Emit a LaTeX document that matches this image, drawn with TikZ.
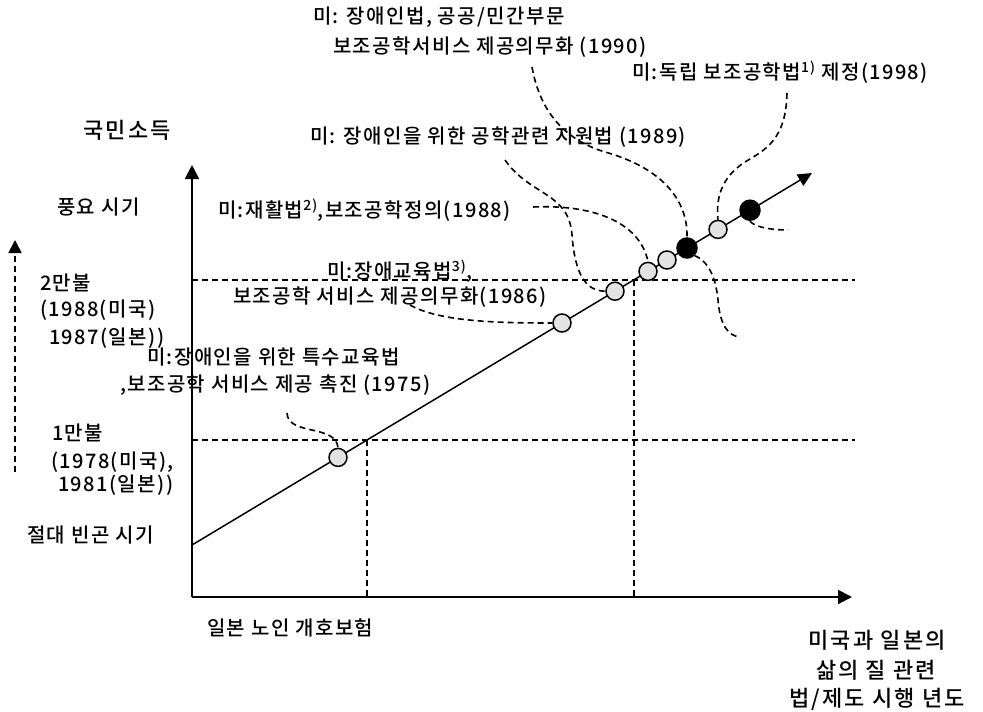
\documentclass[tikz,border=0pt]{standalone}
\usepackage{fontspec}
\setmainfont{Noto Sans CJK KR}[BoldFont={Noto Sans CJK KR Medium}]
\usetikzlibrary{arrows.meta}
\tikzset{
  lbl/.style={anchor=west, inner sep=0pt, font=\fontsize{20}{22}\selectfont\bfseries\addfontfeatures{LetterSpace=7}},
  big/.style={inner sep=0pt, font=\fontsize{22}{24}\selectfont\bfseries\addfontfeatures{LetterSpace=10}},
  axis/.style={line width=1.9pt, -{Triangle[length=14pt,width=14pt]}},
  mainline/.style={line width=1.5pt, -{Triangle[length=14pt,width=13pt]}},
  guide/.style={line width=1.6pt, dash pattern=on 6pt off 4pt},
  callout/.style={line width=1.6pt, dash pattern=on 6pt off 4pt},
  gc/.style={circle, draw=black, line width=1.5pt, fill=gray!22, minimum size=18pt, inner sep=0pt},
  bc/.style={circle, draw=black, line width=1.5pt, fill=black, minimum size=20pt, inner sep=0pt},
}
\begin{document}
\begin{tikzpicture}[x=1pt,y=-1pt]
\useasboundingbox (0,0) rectangle (983,712);
% axes
\coordinate (O) at (192,597);
\coordinate (Ytip) at (192,165);
\coordinate (Xtip) at (852,597);
% main line
\coordinate (L0) at (192,545);
\coordinate (L1) at (812,173);
% guides
\coordinate (H1a) at (192,440);
\coordinate (H1b) at (855,440);
\coordinate (H2a) at (192,280);
\coordinate (H2b) at (855,280);
\coordinate (P1) at (367,440);
\coordinate (P1b) at (367,597);
\coordinate (P2) at (634,280);
\coordinate (P2b) at (634,597);
\coordinate (A0) at (15,472);
\coordinate (A1) at (15,240);

\draw[guide] (H1a) -- (H1b);
\draw[guide] (H2a) -- (H2b);
\draw[guide] (P1) -- (P1b);
\draw[guide] (P2) -- (P2b);
\draw[guide, -{Triangle[length=13pt,width=13pt]}] (A0) -- (A1);

\draw[axis] (O) -- (Ytip);
\draw[axis] (O) -- (Xtip);
\draw[mainline] (L0) -- (L1);

% circles on the line
\node[gc] (c1) at (338,457.4) {};
\node[gc] (c2) at (562,323) {};
\node[gc] (c3) at (615,291.2) {};
\node[gc] (c4) at (648,271.4) {};
\node[gc] (c5) at (667,260) {};
\node[bc] (c6) at (687,248) {};
\node[gc] (c7) at (718,229.4) {};
\node[bc] (c8) at (750,210.2) {};

% labels
\node[lbl] (t1990a) at (313,17) {미: 장애인법, 공공/민간부문};
\node[lbl] (t1990b) at (333,47) {보조공학서비스 제공의무화 (1990)};
\node[lbl] (t1998) at (632,72) {미:독립 보조공학법\textsuperscript{1)} 제정(1998)};
\node[big, anchor=west] (yl) at (83,130) {국민소득};
\node[lbl] (t1989) at (310,137) {미: 장애인을 위한 공학관련 지원법 (1989)};
\node[lbl] (rich) at (57,207) {풍요 시기};
\node[lbl] (t1988) at (218,210) {미:재활법\textsuperscript{2)},보조공학정의(1988)};
\node[lbl] (t1986a) at (327,271) {미:장애교육법\textsuperscript{3)},};
\node[lbl] (i2a) at (40,283) {2만불};
\node[lbl] (t1986b) at (233,297) {보조공학 서비스 제공의무화(1986)};
\node[lbl] (i2b) at (40,310) {(1988(미국)};
\node[lbl] (i2c) at (49,338) {1987(일본))};
\node[lbl] (t1975a) at (147,357) {미:장애인을 위한 특수교육법};
\node[lbl] (t1975b) at (120,385) {,보조공학 서비스 제공 촉진 (1975)};
\node[lbl] (i1a) at (52,433) {1만불};
\node[lbl] (i1b) at (51,462) {(1978(미국),};
\node[lbl] (i1c) at (58,485) {1981(일본))};
\node[lbl] (poor) at (27,535) {절대 빈곤 시기};
\node[lbl] (jp) at (207,628) {일본 노인 개호보험};
\node[big] (xl1) at (877,640) {미국과 일본의};
\node[big] (xl2) at (876,670) {삶의 질 관련};
\node[big] (xl3) at (877,699) {법/제도 시행 년도};

% callout start points
\coordinate (s1975) at (287,413);
\coordinate (s1986) at (410,305);
\coordinate (s1989) at (505,160);
\coordinate (s1988) at (533,207);
\coordinate (s1990) at (532,67);
\coordinate (s1998) at (787,93);
\coordinate (e6) at (740,337);
\coordinate (e8) at (788,230);

\draw[callout] (s1975) .. controls (288,436) and (336,424) .. (c1.north);
\draw[callout] (s1986) .. controls (440,322) and (500,323) .. (c2.west);
\draw[callout] (s1989) .. controls (530,196) and (569,192) .. (572,235) .. controls (575,275) and (586,291) .. (c3.west);
\draw[callout] (s1988) .. controls (600,204) and (641,226) .. (c4.north);
\draw[callout] (s1990) .. controls (540,112) and (565,140) .. (605,152) .. controls (662,168) and (688,200) .. (c6.north);
\draw[callout] (s1998) .. controls (786,140) and (765,150) .. (745,162) .. controls (720,178) and (716,200) .. (c7.north);
\draw[callout] (c6.south east) .. controls (710,262) and (716,280) .. (718,300) .. controls (720,325) and (728,336) .. (e6);
\draw[callout] (c8.south) .. controls (752,225) and (765,230) .. (e8);
\end{tikzpicture}
\end{document}
